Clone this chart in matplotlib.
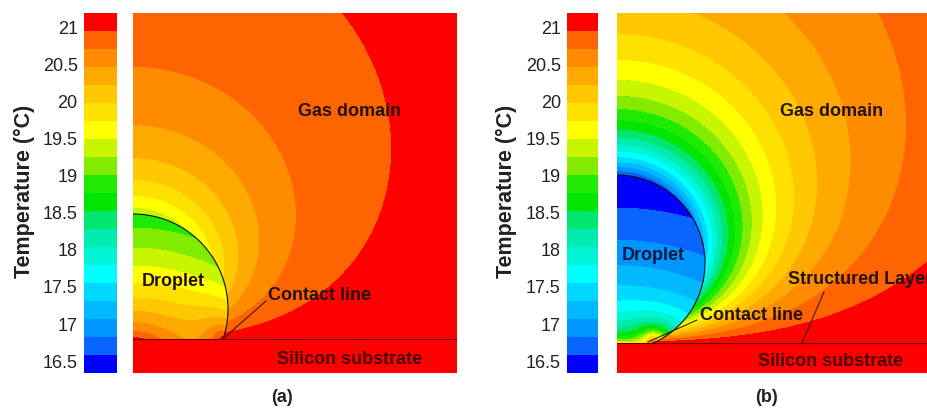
"""
Temperature contours around an evaporating droplet on a plain (a) and a structured (b) silicon substrate.
"""
import numpy as np
import matplotlib
matplotlib.use("Agg")
import matplotlib.pyplot as plt
from matplotlib.colors import ListedColormap, BoundaryNorm

plt.rcParams['font.family'] = ['Liberation Sans', 'DejaVu Sans']

# legend levels (deg C), 20 bands
levels = np.linspace(16.34, 21.19, 21)
tick_values = [16.5, 17, 17.5, 18, 18.5, 19, 19.5, 20, 20.5, 21]
tick_labels = ['16.5', '17', '17.5', '18', '18.5', '19', '19.5', '20', '20.5', '21']

# band colours, coldest first
band_colors = ['#0000ff', '#0a64ff', '#0096ff', '#00b9ff', '#00d9ff',
               '#00ffff', '#00f5d7', '#00ebaf', '#00e66e', '#00e600',
               '#1eeb00', '#82eb00', '#c8f500', '#ffff00', '#ffe100',
               '#ffc800', '#ffaa00', '#ff8c00', '#ff6400', '#ff0000']

# droplet / field parameters (pixel units, z up from substrate)
drop_center_z = [30, 80]
drop_radius = [95, 88]
far_temp = [21.13, 21.2]
gas_strength = [600, 730]
gas_offset = [20, 10]
apex_temp = [18.85, 16.38]
inner_exponent = [0.6, 0.2]
inner_focus = [44, 135]
contact_warm_len = [25, 10]
field_width = [324, 324]
substrate_depth = [34, 30]
field_height = [326, 330]


def temperature_field(i, r, z):
    zc, R = drop_center_z[i], drop_radius[i]
    t_far, off = far_temp[i], gas_offset[i]
    d1 = np.hypot(r, z - zc)
    d2 = np.hypot(r, z + zc)
    gas = t_far - gas_strength[i] * (1 / (d1 + off) - 1 / (d2 + off))

    # inside the droplet: layered profile, warmed up close to the contact line
    zq = inner_focus[i]
    rho = np.hypot(r, z + zq)
    u = np.clip((rho - zq) / (zc + R), 0, 1)
    inner = t_far - (t_far - apex_temp[i]) * u ** inner_exponent[i]
    r_contact = np.sqrt(R ** 2 - zc ** 2)
    dc = np.hypot(r - r_contact, z)
    inner = inner + (t_far - inner) * np.exp(-dc / contact_warm_len[i])

    T = np.where(d1 < R, inner, gas)
    T = np.where(z < 0, t_far, T)
    return np.clip(T, levels[0] + 1e-3, levels[-1] - 1e-3)


cmap = ListedColormap(band_colors)
norm = BoundaryNorm(levels, cmap.N)

fig = plt.figure(figsize=(9.28, 4.09), dpi=100)
W, H = 928.0, 409.0
bottom, height = (H - 373) / H, 360 / H

cbar_x = [84, 567]
cbar_w = [33, 31]
field_x = [133, 617]
substrate_y = [339, 343]
title_x = [24, 506]
panel_x = [282, 766]
panel_names = ['(a)', '(b)']
text_dark = '#24120a'

field_axes = []
for i in range(2):
    ax = fig.add_axes([field_x[i] / W, bottom, 324 / W, height])
    zb, zt, wd = -substrate_depth[i], field_height[i], field_width[i]
    rr = np.linspace(0, wd, 648)
    zz = np.linspace(zb, zt, 720)
    R2, Z2 = np.meshgrid(rr, zz)
    T = temperature_field(i, R2, Z2)
    im = ax.imshow(T, origin='lower', extent=[0, wd, zb, zt], cmap=cmap, norm=norm,
                   interpolation='nearest', aspect='auto')
    ax.set_xlim(0, wd)
    ax.set_ylim(zb, zt)
    ax.axis('off')
    field_axes.append(ax)

    # droplet outline and substrate line
    zc, R = drop_center_z[i], drop_radius[i]
    th = np.linspace(-np.arcsin(zc / R), np.pi / 2, 200)
    ax.plot(R * np.cos(th), zc + R * np.sin(th), color='#101010', lw=0.8)
    ax.axhline(0, color='#5a0000', lw=0.8)

    cax = fig.add_axes([cbar_x[i] / W, bottom, cbar_w[i] / W, height])
    cb = fig.colorbar(im, cax=cax)
    cb.outline.set_visible(False)
    cax.minorticks_off()
    cax.yaxis.set_ticks_position('left')
    cb.set_ticks(tick_values)
    cb.set_ticklabels(tick_labels)
    cax.tick_params(which='both', length=0, pad=4.5, labelsize=13, colors='#222222')

    fig.text(title_x[i] / W, (H - 191) / H, 'Temperature (\u00b0C)', rotation=90,
             ha='center', va='center', fontsize=15.5, fontweight='bold', color='#222222')
    fig.text(panel_x[i] / W, (H - 398) / H, panel_names[i], ha='center', va='center',
             fontsize=13, fontweight='bold', color='#222222')


def px(i, x, y):
    # picture pixel -> field data coordinates
    return x - field_x[i], substrate_y[i] - y


ax_a, ax_b = field_axes
kw = dict(fontsize=13, fontweight='bold', ha='center', va='center')
ax_a.text(*px(0, 350, 111), 'Gas domain', color=text_dark, **kw)
ax_a.text(*px(0, 173, 281), 'Droplet', color=text_dark, **kw)
ax_a.text(*px(0, 320, 295), 'Contact line', color=text_dark, **kw)
ax_a.text(*px(0, 350, 360), 'Silicon substrate', color='#4a0808', **kw)
ax_a.plot(*zip(px(0, 224, 338), px(0, 266, 301)), color='#3a1a00', lw=0.8)

ax_b.text(*px(1, 832, 111), 'Gas domain', color=text_dark, **kw)
ax_b.text(*px(1, 653, 255), 'Droplet', color='#0a1640', **kw)
ax_b.text(*px(1, 752, 315), 'Contact line', color=text_dark, **kw)
ax_b.text(*px(1, 831, 361), 'Silicon substrate', color='#4a0808', **kw)
ax_b.text(*px(1, 788, 279), 'Structured Layer', color=text_dark, fontsize=13,
          fontweight='bold', ha='left', va='center', clip_on=False)
ax_b.plot(*zip(px(1, 648, 342), px(1, 697, 320)), color='#3a1a00', lw=0.8)
ax_b.plot(*zip(px(1, 802, 343), px(1, 824, 292)), color='#3a1a00', lw=0.8)

fig.savefig('out.png', dpi=100)
